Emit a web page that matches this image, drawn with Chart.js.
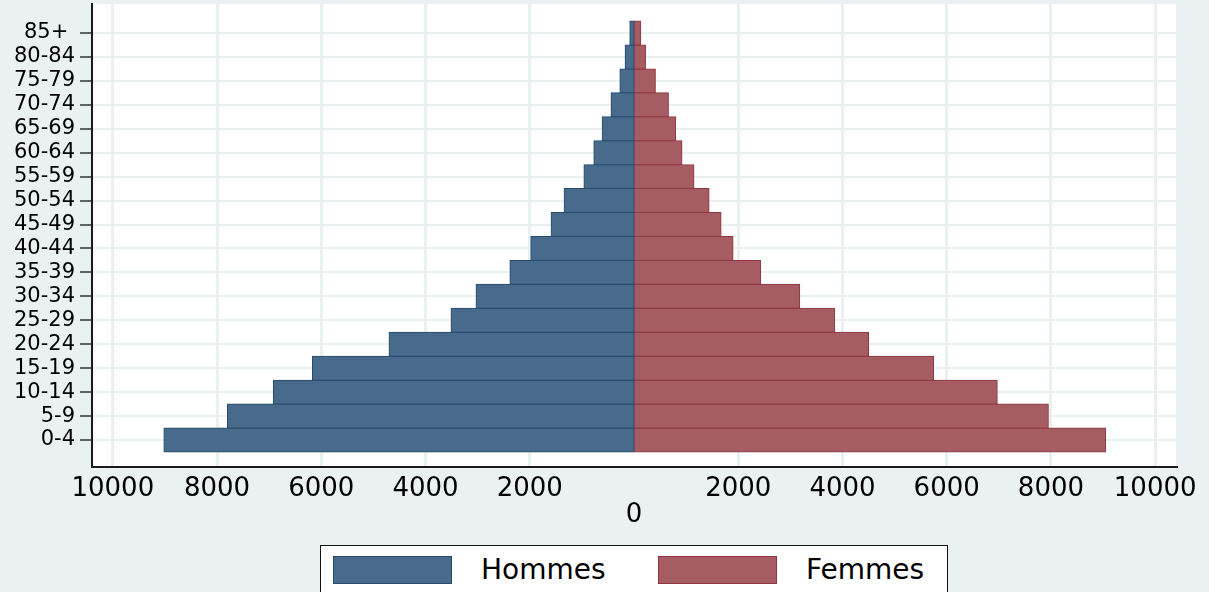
<!DOCTYPE html>
<html>
<head>
<meta charset="utf-8">
<script src="https://cdn.jsdelivr.net/npm/chart.js@4/dist/chart.umd.min.js"></script>
<style>
  html, body { margin: 0; padding: 0; background: #eaf1f3; }
  #wrap { position: relative; width: 1209px; height: 592px; overflow: hidden; background: #eaf1f3; }
  #c { position: absolute; left: 0; top: 0; }
  #legend { position: absolute; left: 320px; top: 545px; width: 628px; height: 60px;
    background: #fff; border: 1.5px solid #111; box-sizing: border-box;
    font-family: "DejaVu Sans", sans-serif; font-size: 28px; color: #000; }
  .sw { position: absolute; top: 10px; width: 119px; height: 28px; box-sizing: border-box; }
  .lt { position: absolute; top: 10px; line-height: 28px; }
</style>
</head>
<body>
<div id="wrap">
  <canvas id="c" width="1209" height="592"></canvas>
  <div id="legend">
    <div class="sw" style="left:12px;background:#486b8c;border:1px solid #264a6e;"></div>
    <div class="lt" style="left:160px;">Hommes</div>
    <div class="sw" style="left:337px;background:#a55c62;border:1px solid #903440;"></div>
    <div class="lt" style="left:485px;">Femmes</div>
  </div>
</div>
<script>
// Age groups, bottom (index 0) to top
const ageGroups = ['0-4','5-9','10-14','15-19','20-24','25-29','30-34','35-39','40-44','45-49','50-54','55-59','60-64','65-69','70-74','75-79','80-84','85+'];
const hommes = [9020, 7800, 6920, 6170, 4700, 3510, 3030, 2380, 1980, 1590, 1340, 960, 770, 610, 440, 270, 170, 80];
const femmes = [9050, 7950, 6970, 5750, 4500, 3850, 3180, 2430, 1900, 1670, 1440, 1150, 920, 800, 660, 410, 220, 130];
const xTickValues = [-10000, -8000, -6000, -4000, -2000, 0, 2000, 4000, 6000, 8000, 10000];

const whiteArea = {
  id: 'whiteArea',
  beforeDraw(chart) {
    const a = chart.chartArea, ctx = chart.ctx;
    ctx.save();
    ctx.fillStyle = '#ffffff';
    ctx.fillRect(a.left, a.top, a.right - a.left, a.bottom - a.top);
    ctx.restore();
  }
};

const font = "'DejaVu Sans', sans-serif";
const isZeroTick = (ctx) => ctx.tick && ctx.tick.value === 0;

new Chart(document.getElementById('c'), {
  type: 'bar',
  data: {
    datasets: [
      {
        label: 'Hommes',
        data: hommes.map((v, i) => ({ x: -v, y: i })),
        backgroundColor: '#486b8c',
        borderColor: '#264a6e',
        borderWidth: 1,
        borderSkipped: false,
        inflateAmount: 0.5,
        grouped: false,
        categoryPercentage: 1,
        barPercentage: 1
      },
      {
        label: 'Femmes',
        data: femmes.map((v, i) => ({ x: v, y: i })),
        backgroundColor: '#a55c62',
        borderColor: '#903440',
        borderWidth: 1,
        borderSkipped: false,
        inflateAmount: 0.5,
        grouped: false,
        categoryPercentage: 1,
        barPercentage: 1
      }
    ]
  },
  options: {
    indexAxis: 'y',
    responsive: false,
    animation: false,
    layout: { padding: { top: 4, right: 33, left: 0, bottom: 0 } },
    plugins: { legend: { display: false }, tooltip: { enabled: false } },
    scales: {
      x: {
        type: 'linear',
        min: -10400,
        max: 10400,
        afterBuildTicks(scale) { scale.ticks = xTickValues.map(v => ({ value: v })); },
        afterFit(scale) { scale.height = 125; scale.paddingLeft = 0; scale.paddingRight = 0; },
        grid: {
          color: (ctx) => isZeroTick(ctx) ? 'rgba(0,0,0,0)' : '#e8f0f2',
          lineWidth: (ctx) => isZeroTick(ctx) ? 0 : 3,
          drawTicks: false
        },
        border: { display: true, color: '#1a1a1a', width: 2 },
        ticks: {
          padding: 9,
          maxRotation: 0,
          autoSkip: false,
          color: '#000',
          font: { family: font, size: 26, lineHeight: 1 },
          callback: (v) => v === 0 ? ['', '0'] : String(Math.abs(v))
        }
      },
      y: {
        type: 'linear',
        offset: false,
        min: -1.128,
        max: 18.21,
        afterBuildTicks(scale) { scale.ticks = ageGroups.map((_, i) => ({ value: i })); },
        afterFit(scale) { scale.width = 92; scale.paddingTop = 0; scale.paddingBottom = 0; },
        grid: {
          offset: false,
          color: '#e8f0f2',
          lineWidth: 2,
          tickColor: '#333',
          tickWidth: 1.5,
          tickLength: 12
        },
        border: { display: true, color: '#1a1a1a', width: 2 },
        ticks: {
          padding: 5,
          autoSkip: false,
          color: '#000',
          font: { family: font, size: 21, lineHeight: 1 },
          callback: (v) => ageGroups[v] === '85+' ? '85+ ' : ageGroups[v]
        }
      }
    }
  },
  plugins: [whiteArea]
});
</script>
</body>
</html>
